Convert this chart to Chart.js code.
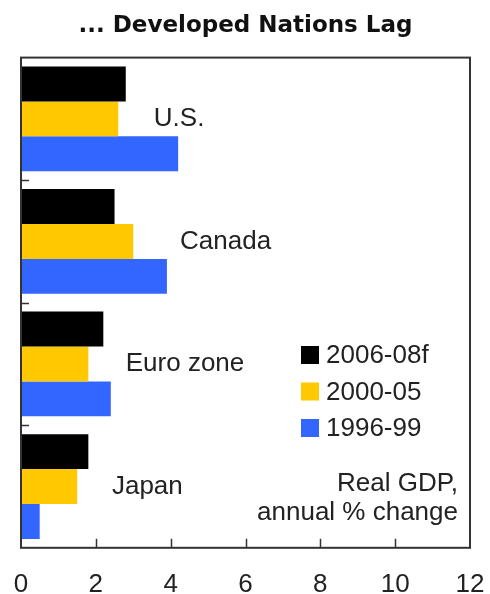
<!DOCTYPE html>
<html>
<head>
<meta charset="utf-8">
<script src="https://cdn.jsdelivr.net/npm/chart.js@4.4.1/dist/chart.umd.min.js"></script>
<style>
html,body{margin:0;padding:0;background:#fff;}
#wrap{width:490px;height:594px;}
</style>
</head>
<body>
<div id="wrap"><canvas id="c" width="490" height="594"></canvas></div>
<script>
// ---- data ----
const categories = ['U.S.', 'Canada', 'Euro zone', 'Japan'];
const seriesNames = ['2006-08f', '2000-05', '1996-99'];
const gdp2006_08f = [2.8, 2.5, 2.2, 1.8];
const gdp2000_05 = [2.6, 3.0, 1.8, 1.5];
const gdp1996_99 = [4.2, 3.9, 2.4, 0.5];
const xTickValues = [0, 2, 4, 6, 8, 10, 12];
const noteLines = ['Real GDP,', 'annual % change'];
const chartTitle = '... Developed Nations Lag';

// ---- styles ----
const colors = ['#000000', '#FFC800', '#3366FF'];
const FONT = "'Liberation Sans', Arial, sans-serif";
const AXIS = '#333333';

const decor = {
  id: 'decor',
  afterDatasetsDraw(chart) {
    const ctx = chart.ctx;
    const a = chart.chartArea;
    const xs = chart.scales.x, ys = chart.scales.y;
    ctx.save();
    // frame
    ctx.strokeStyle = AXIS;
    ctx.lineWidth = 2;
    ctx.strokeRect(a.left, a.top, a.right - a.left, a.bottom - a.top);
    // inward ticks on x axis
    ctx.lineWidth = 1.5;
    xTickValues.slice(1, -1).forEach(v => {
      const px = Math.round(xs.getPixelForValue(v)) + 0.5;
      ctx.beginPath(); ctx.moveTo(px, a.bottom); ctx.lineTo(px, a.bottom - 9); ctx.stroke();
    });
    // inward ticks on y axis at category boundaries
    for (let i = 0; i < categories.length - 1; i++) {
      const py = Math.round(ys.getPixelForValue(i + 0.5)) + 0.5;
      ctx.beginPath(); ctx.moveTo(a.left, py); ctx.lineTo(a.left + 8, py); ctx.stroke();
    }
    // category labels inside plot
    const labelAt = [3.55, 4.25, 2.8, 2.43];
    ctx.fillStyle = '#222';
    ctx.font = '26px ' + FONT;
    ctx.textBaseline = 'middle';
    ctx.textAlign = 'left';
    categories.forEach((c, i) => {
      ctx.fillText(c, xs.getPixelForValue(labelAt[i]), ys.getPixelForValue(i));
    });
    // legend
    const lx = 301, ly0 = 355, step = 36.5;
    chart.data.datasets.forEach((ds, i) => {
      const cy = ly0 + i * step;
      ctx.fillStyle = ds.backgroundColor;
      ctx.fillRect(lx, cy - 9, 18, 18);
      ctx.fillStyle = '#222';
      ctx.fillText(ds.label, lx + 25, cy + 1);
    });
    // note
    ctx.textAlign = 'right';
    ctx.fillText(noteLines[0], 458, 484);
    ctx.fillText(noteLines[1], 458, 513);
    ctx.restore();
  }
};

new Chart(document.getElementById('c'), {
  type: 'bar',
  data: {
    labels: categories,
    datasets: [
      { label: seriesNames[0], data: gdp2006_08f, backgroundColor: colors[0] },
      { label: seriesNames[1], data: gdp2000_05, backgroundColor: colors[1] },
      { label: seriesNames[2], data: gdp1996_99, backgroundColor: colors[2] }
    ]
  },
  options: {
    indexAxis: 'y',
    responsive: false,
    animation: false,
    layout: { padding: { left: 21, right: 20, top: 0, bottom: -28 } },
    datasets: { bar: { categoryPercentage: 0.855, barPercentage: 1.0, borderWidth: 0 } },
    plugins: {
      legend: { display: false },
      tooltip: { enabled: false },
      title: {
        display: true,
        text: chartTitle,
        color: '#111',
        font: { family: "'DejaVu Sans', sans-serif", size: 23, weight: 'bold' },
        padding: { top: 12, bottom: 18 }
      }
    },
    scales: {
      x: {
        type: 'linear',
        min: 0, max: 12,
        afterBuildTicks: s => { s.ticks = xTickValues.map(v => ({ value: v })); },
        afterFit: s => { s.paddingLeft = 0; s.paddingRight = 0; },
        ticks: { color: '#222', font: { family: FONT, size: 26 }, padding: 21.5, maxRotation: 0 },
        grid: { display: false, drawTicks: false },
        border: { display: false }
      },
      y: {
        ticks: { display: false },
        grid: { display: false, drawTicks: false },
        border: { display: false }
      }
    }
  },
  plugins: [decor]
});
</script>
</body>
</html>
